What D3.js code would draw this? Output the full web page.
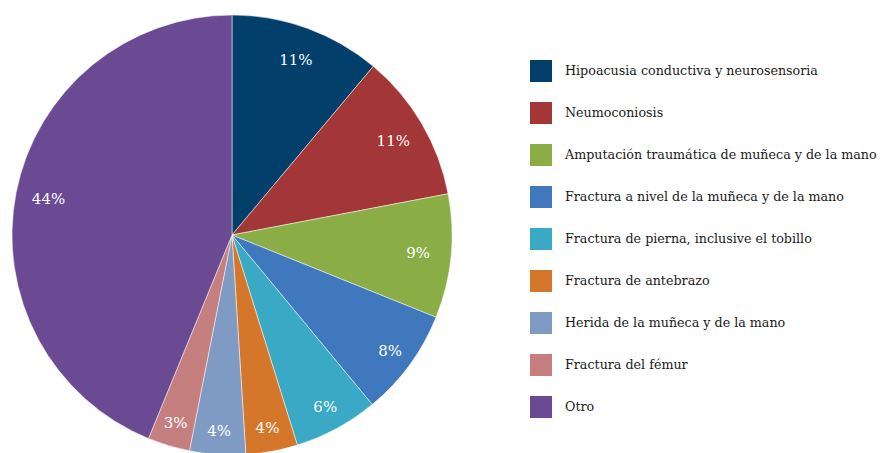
<!DOCTYPE html>
<html>
<head>
<meta charset="utf-8">
<script src="https://cdn.jsdelivr.net/npm/d3@7"></script>
<style>
  body { margin: 0; background: #fff; }
  text { font-family: "DejaVu Serif", serif; }
</style>
</head>
<body>
<div id="chart"></div>
<script>
// Categories and their shares
const categories = [
    "Hipoacusia conductiva y neurosensoria",
    "Neumoconiosis",
    "Amputación traumática de muñeca y de la mano",
    "Fractura a nivel de la muñeca y de la mano",
    "Fractura de pierna, inclusive el tobillo",
    "Fractura de antebrazo",
    "Herida de la muñeca y de la mano",
    "Fractura del fémur",
    "Otro"
];
const values = [11.1, 10.9, 9.1, 7.9, 6.2, 3.8, 4.1, 3.1, 43.8];
const labels = ["11%", "11%", "9%", "8%", "6%", "4%", "4%", "3%", "44%"];
const colors = ["#023f6b", "#a33636", "#8bad45", "#3f78bd", "#39a9c6",
                "#d5772b", "#7f9ac3", "#c47f7e", "#6b4a94"];

const width = 884, height = 453;
const cx = 232, cy = 235, radius = 220;

const svg = d3.select("#chart")
    .append("svg")
    .attr("width", width)
    .attr("height", height);

const data = categories.map((c, i) => ({ name: c, value: values[i], label: labels[i] }));

const color = d3.scaleOrdinal()
    .domain(categories)
    .range(colors);

const pie = d3.pie()
    .value(d => d.value)
    .sort(null);

const arc = d3.arc()
    .innerRadius(0)
    .outerRadius(radius);

// label ring sits near the rim; small slices push labels a bit further out
const labelArc = d3.arc()
    .innerRadius(d => (d.endAngle - d.startAngle) < 0.5 ? radius * 0.89 : radius * 0.85)
    .outerRadius(d => (d.endAngle - d.startAngle) < 0.5 ? radius * 0.89 : radius * 0.85);

const g = svg.append("g")
    .attr("transform", `translate(${cx},${cy})`);

const arcs = pie(data);

g.selectAll("path")
    .data(arcs)
    .enter().append("path")
    .attr("d", arc)
    .attr("fill", d => color(d.data.name))
    .attr("stroke", "#fff")
    .attr("stroke-width", 0.5);

g.selectAll("text")
    .data(arcs)
    .enter().append("text")
    .attr("transform", d => `translate(${labelArc.centroid(d)})`)
    .attr("text-anchor", "middle")
    .attr("dy", "0.35em")
    .attr("fill", "#fff")
    .attr("font-size", "15px")
    .text(d => d.data.label);

// Legend
const legend = svg.append("g")
    .attr("class", "legend")
    .attr("transform", "translate(530,60)");

const row = d3.scaleBand()
    .domain(categories)
    .range([0, 42 * categories.length]);

legend.selectAll("rect")
    .data(categories)
    .enter().append("rect")
    .attr("x", 0)
    .attr("y", d => row(d))
    .attr("width", 22)
    .attr("height", 22)
    .style("fill", color);

legend.selectAll("text")
    .data(categories)
    .enter().append("text")
    .attr("x", 35)
    .attr("y", d => row(d) + 11)
    .attr("dy", ".35em")
    .attr("fill", "#1a1a1a")
    .attr("font-size", "12.7px")
    .text(d => d);
</script>
</body>
</html>
